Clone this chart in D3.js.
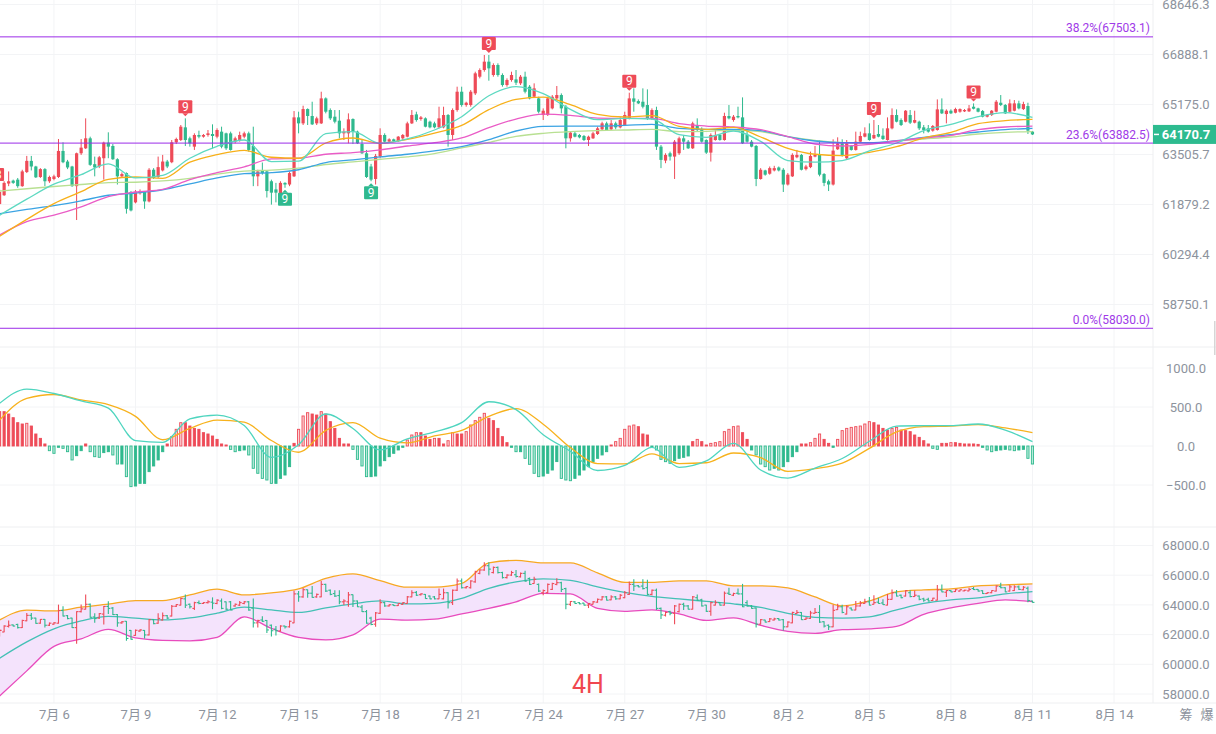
<!DOCTYPE html>
<html>
<head>
<meta charset="utf-8">
<script src="https://cdn.jsdelivr.net/npm/d3@7"></script>
<style>
  body { margin: 0; background: #fff; }
  svg { display: block; }
</style>
</head>
<body>
<div id="chart"></div>
<script>
// Datos: velas de 4H (apertura, máximo, mínimo, cierre), desde 7月4 00:00
const opens = [
  61896,62177,62556,62651,62683,62471,62930,63296,63112,62769,
  63026,62630,62704,62769,63623,63274,63112,62471,63546,63710,
  64041,63188,63112,63383,63897,63787,63350,62790,62897,62282,
  61947,62240,62282,61978,63005,62769,62983,63274,63252,63908,
  63985,64407,64041,63765,64152,64096,64152,64185,64096,64263,
  64207,64207,63930,63985,64096,64207,63787,62790,62983,62951,
  62630,62366,62240,62577,62524,62790,64741,64540,65021,64787,
  64540,64540,65382,64988,64764,64630,64207,64207,64686,64263,
  63852,63546,63112,62704,63437,64152,63930,64008,63952,64041,
  64096,64540,64842,64686,64708,64596,64540,64407,64407,64820,
  64152,64988,65609,65157,65157,65552,66122,66352,66640,66180,
  66524,66180,65837,66008,66030,65894,66122,65780,65439,65382,
  64820,64820,65044,65382,65496,65100,64041,64207,64152,64118,
  63985,64041,64185,64340,64540,64340,64540,64407,64485,64708,
  65382,65291,65269,65157,64708,64988,63765,63306,63546,63437,
  63546,64041,63930,63710,64485,64340,63985,63568,63985,64152,
  63985,64787,64652,64787,64741,64152,63930,63787,62704,62983,
  62876,62983,63080,63005,62524,62790,63415,63492,63026,63091,
  63437,63492,62865,62630,62524,63678,63874,63383,63787,63656,
  63930,64096,64207,64041,64185,64130,63985,64374,64820,64652,
  64596,64820,64563,64596,64407,64374,64296,64318,65010,64853,
  64965,64898,64932,64943,64943,65100,65044,64954,64764,64820,
  64932,65235,65157,64932,64965,65213,65021,65122,64263
];
const highs = [
  62366,62630,62951,62683,62737,63005,63459,63459,63134,63058,
  63058,62812,62844,64019,63908,63328,63134,63568,64019,64708,
  64096,63437,63459,63930,64241,63852,63383,62919,62919,62313,
  62345,62366,62313,63058,63058,63437,63492,63328,63985,64063,
  64485,64708,64096,64207,64296,64185,64318,64507,64374,64429,
  64230,64263,64096,64263,64263,64263,64429,63005,63242,62983,
  62683,62577,62630,62598,62951,64954,64932,65134,65044,65269,
  64764,65609,65416,65044,64988,64988,64374,64876,64708,64296,
  63985,63656,63198,63524,64374,64207,64041,64030,64118,64185,
  64596,64988,64932,64787,64741,64630,64596,65100,65100,64853,
  65044,65780,65780,65269,65666,66294,66409,66871,66871,66582,
  66582,66237,66065,66294,66352,66180,66294,65837,65894,65439,
  65044,65439,65496,65803,65552,65157,64263,64263,64185,64152,
  64130,64263,64429,64596,64596,64652,64596,64741,64932,65575,
  65723,65348,65723,65689,65044,65100,63820,63546,63601,63985,
  64096,64152,63985,64596,64708,64407,64008,64207,64318,64185,
  64898,65157,64820,65100,65416,64318,63985,63820,63058,63005,
  63112,63134,63112,63058,62897,63546,63656,63524,63166,63601,
  63787,63985,62897,62683,64008,64074,64008,63985,63820,64263,
  64263,64407,64540,64652,64485,64374,64741,65044,65010,64708,
  64988,64988,64965,64630,64485,64485,64485,65348,65382,65010,
  65010,65066,65044,65021,65157,65213,65066,64988,64853,64988,
  65326,65496,65190,65348,65326,65304,65269,65235,64285
];
const lows = [
  61875,62156,62471,62545,62418,62450,62897,62983,62737,62737,
  62471,62577,62662,62737,63220,63026,62450,61383,63492,63688,
  63134,62790,63058,62683,63383,63328,62524,62737,61587,61658,
  61916,62198,61741,61947,62704,62737,62951,63058,63220,63852,
  63952,63787,63765,63656,64041,64063,64096,63710,64041,63710,
  63656,63634,63874,63930,64041,63601,62471,62471,62844,62104,
  61875,61947,62208,62418,62471,62769,64207,64485,64485,64485,
  64485,64518,64876,64652,64540,64041,63985,63874,63852,63852,
  63524,62737,62630,62524,63383,63874,63897,63919,63919,63985,
  64074,64518,64596,64630,64407,64374,64374,64374,64374,63765,
  63985,64932,65100,65100,65100,65496,66065,66294,65985,66122,
  66122,65780,65780,65951,65837,65837,65552,65348,65416,64876,
  64652,64787,65010,65326,64876,63710,63930,64074,64041,63952,
  63787,64019,64152,64318,64296,64318,64340,64374,64451,64674,
  64932,65190,65044,64652,64652,63656,63058,63220,63306,62704,
  63492,63656,63688,63688,64263,63897,63524,63274,63963,63963,
  63963,64674,64596,64708,63852,63897,63743,62471,62683,62812,
  62844,62951,62951,62282,62492,62769,63383,62983,62983,63058,
  63415,62790,62471,62313,62492,63656,63437,63350,63634,63634,
  63897,64074,63963,64019,64074,63985,63963,64340,64574,64451,
  64574,64518,64540,64318,64207,64230,64263,64296,64853,64540,
  64853,64876,64898,64921,64921,65010,64910,64741,64741,64787,
  64910,65122,64853,64910,64943,65010,64988,64185,64152
];
const closes = [
  62282,62577,62630,62577,62471,62951,63296,63112,62758,63026,
  62630,62769,62790,63623,63252,63080,62471,63546,63732,64041,
  63166,63080,63415,63897,63765,63350,62790,62865,61741,61689,
  62292,62313,61978,63005,62737,63091,63274,63112,63908,64019,
  64429,63985,63874,64152,64096,64152,64207,64118,64318,63765,
  63710,63656,64041,64152,64207,63656,62790,62951,62897,62313,
  62261,62261,62577,62524,62897,64741,64540,65021,64787,64507,
  64708,65382,64932,64708,64596,64207,64263,64674,64263,63874,
  63546,62769,62683,63459,64152,63930,64008,63952,64096,64152,
  64540,64820,64652,64741,64429,64407,64407,64708,64820,64152,
  64988,65609,65157,65235,65609,66237,66352,66640,66409,66524,
  66180,65837,66008,66180,65917,66122,65609,65382,65723,64932,
  64965,65382,65439,65496,65044,64041,64230,64096,64074,63985,
  64096,64207,64374,64540,64318,64540,64407,64652,64820,65382,
  65269,65213,65100,64708,64988,63765,63328,63492,63437,63930,
  64041,63930,63710,64540,64318,63930,63568,64152,64152,63985,
  64787,64708,64764,64741,63874,63930,63765,62704,63005,62844,
  63058,63058,62983,62524,62844,63492,63492,63005,63112,63459,
  63492,62844,62577,62524,63634,63874,63492,63874,63656,63930,
  64118,64207,63985,64152,64096,64019,64374,64820,64596,64485,
  64965,64563,64652,64374,64318,64263,64451,65010,64876,64965,
  64876,65021,65021,64988,65044,65032,64932,64764,64820,64965,
  65269,65157,64876,65213,65213,65044,65190,64296,64170.7
];

// Medias móviles, una muestra por día (00:00), 7月4 → 8月11
const maTeal = [61536,62051,62535,62844,63198,62737,62823,63383,63776,63985,63274,63285,64196,64263,63874,64019,64318,64764,65473,65780,65541,65010,64663,64708,64686,64163,64074,64285,63941,63306,63252,63306,63623,63886,64296,64507,64764,64898,64741];
const maOrange = [60870,61404,61906,62292,62694,62769,62726,63252,63503,63645,63415,63383,63886,64052,63874,64008,64218,64474,64999,65348,65428,65168,64842,64753,64798,64440,64340,64407,64085,63710,63514,63470,63579,63765,64052,64241,64529,64630,64674];
const maPink = [60908,61332,61536,61802,62135,62282,62366,62683,62908,63101,63361,63383,63514,63568,63656,63787,63897,64052,64396,64686,64853,64809,64719,64708,64708,64529,64451,64418,64329,64096,63852,63787,63841,63952,64052,64141,64329,64418,64451];
const maBlue = [61587,61720,61844,61999,62177,62250,62355,62545,62737,62876,62908,63005,63242,63328,63426,63514,63623,63765,63996,64285,64440,64451,64451,64474,64507,64374,64340,64340,64296,64096,63952,63897,63897,63963,64074,64163,64252,64329,64374];
const maLime = [62313,62387,62460,62524,62588,62598,62640,62726,62865,62962,62994,63058,63177,63263,63350,63426,63535,63721,63908,64107,64207,64263,64296,64318,64340,64263,64274,64318,64263,64096,63974,63897,63886,63952,64019,64085,64185,64241,64263];

// MACD (DIF / DEA por día, histograma por vela)
const macdDif = [547,730,673,577,486,70,47,349,397,262,-147,15,410,225,-50,90,180,300,567,466,145,-69,-314,-249,-18,-273,-191,34,-308,-411,-283,-160,61,256,260,262,282,203,56];
const macdDea = [333,611,660,590,530,380,80,226,333,305,70,-80,200,300,100,40,130,200,380,480,280,-20,-225,-230,-100,-225,-215,-90,-150,-325,-290,-220,-30,180,248,256,275,232,171];
const macdHist = [
  440,440,410,363,299,282,291,256,154,98,
  26,-60,-94,-17,-30,-73,-179,-124,-60,26,
  -73,-137,-145,-85,-73,-115,-231,-231,-393,-521,
  -513,-479,-479,-329,-256,-179,-73,26,120,214,
  299,299,256,226,214,171,154,128,85,26,
  13,-43,-73,-60,-51,-115,-286,-350,-415,-436,
  -479,-479,-415,-372,-265,34,214,385,427,410,
  397,440,410,312,226,98,26,26,-43,-171,
  -256,-393,-393,-385,-256,-188,-137,-94,-51,-17,
  77,141,171,171,128,85,98,98,26,68,
  171,154,154,184,269,325,368,419,355,325,
  226,120,43,-17,-73,-73,-158,-235,-350,-393,
  -385,-350,-308,-200,-415,-436,-445,-415,-372,-308,
  -265,-201,-158,-115,-73,13,56,98,214,256,
  269,248,154,141,-17,-51,-171,-201,-222,-188,
  -158,-145,-128,56,85,56,13,34,43,56,
  184,214,248,256,171,85,-51,-115,-231,-265,
  -308,-286,-308,-265,-201,-137,-73,26,26,43,
  98,154,85,34,-17,85,197,226,239,248,
  256,282,312,299,269,226,205,226,239,205,
  197,184,141,111,68,26,-30,-43,34,34,
  43,43,34,26,26,26,21,-17,-51,-73,
  -60,-51,-43,-51,-60,-51,-43,-158,-231
];

// Bandas de Bollinger, una muestra por día
const bollUpper = [62990,63643,63596,63845,64054,64290,64290,64673,65057,64673,64808,65077,65785,66088,65636,65192,65192,65448,66828,66997,66828,66828,66155,65515,65515,65616,65616,65279,65279,65145,64539,63933,64269,64875,65010,65077,65279,65347,65414];
const bollMid = [60411,61508,62391,62923,63226,63104,62990,63125,63441,63845,63663,63495,63798,64067,64269,64067,64101,64438,65111,65549,65751,65650,65212,64842,64572,64404,64236,64067,63832,63428,63158,63104,63192,63663,64101,64337,64471,64741,64896];
const bollLower = [57872,59556,61205,61710,62350,61778,61609,61576,61811,63192,62418,61811,61643,61980,63037,62970,63037,63394,63764,64202,64774,64741,63764,63562,63663,63394,62956,63125,62620,62215,62081,62330,62384,62552,63361,63798,64101,64337,64222];

// Ejes y niveles
const priceTicks = [68646.3, 66888.1, 65175.0, 63505.7, 61879.2, 60294.4, 58750.1];
const macdTicks = [1000, 500, 0, -500];
const bollTicks = [68000, 66000, 64000, 62000, 60000, 58000];
const fibLevels = [
  { label: "38.2%", value: 67503.1 },
  { label: "23.6%", value: 63882.5 },
  { label: "0.0%", value: 58030.0 },
];
const lastPrice = 64170.7;
const dayTicks = [[7,6],[7,9],[7,12],[7,15],[7,18],[7,21],[7,24],[7,27],[7,30],[8,2],[8,5],[8,8],[8,11],[8,14]];
const tdMarks = [
  { idx: -1, text: "13", side: "up", anchor: 62480 },
  { idx: 41, text: "9", side: "up" },
  { idx: 108, text: "9", side: "up" },
  { idx: 139, text: "9", side: "up" },
  { idx: 193, text: "9", side: "up" },
  { idx: 215, text: "9", side: "up" },
  { idx: 63, text: "9", side: "down" },
  { idx: 82, text: "9", side: "down" },
];

// Constantes de dibujo
const width = 1216;
const height = 734;
const plotRight = 1153;
const font = "Roboto, 'Noto Sans CJK SC', sans-serif";
const up = "#ee4b58";
const down = "#2fb98e";
const gridColor = "#f3f4f6";
const axisColor = "#8d939d";
const fibColor = "#9b2ce8";
const panes = {
  price: { top: 0, bottom: 347 },
  macd: { top: 347, bottom: 527 },
  boll: { top: 527, bottom: 703 },
};

// Tiempos
const startTime = new Date(2024, 6, 4, 0);
const candleTimes = d3.range(opens.length).map((i) => d3.timeHour.offset(startTime, 4 * i));
const dayTimes = d3.range(maTeal.length).map((i) => d3.timeDay.offset(startTime, i));
const candles = candleTimes.map((t, i) => ({ t, o: opens[i], h: highs[i], l: lows[i], c: closes[i] }));

// Escalas
const x = d3.scaleTime().domain([startTime, new Date(2024, 7, 14)]).range([-0.4, 1114]);
const yPrice = d3.scaleLog().domain([58750.1, 68646.3]).range([304.5, 4.5]);
const yMacd = d3.scaleLinear().domain([-500, 1000]).range([485, 368]);
const yBoll = d3.scaleLinear().domain([58000, 68000]).range([694, 545.5]);

const svg = d3.select("#chart").append("svg")
  .attr("width", width).attr("height", height)
  .attr("font-family", font);

// Clips por panel
const defs = svg.append("defs");
Object.entries(panes).forEach(([name, p]) => {
  defs.append("clipPath").attr("id", `clip-${name}`)
    .append("rect").attr("x", 0).attr("y", p.top).attr("width", plotRight).attr("height", p.bottom - p.top);
});

// Rejilla
const gridGroup = svg.append("g");
const tickDates = dayTicks.map(([m, d]) => new Date(2024, m - 1, d));
gridGroup.selectAll("line.v").data(tickDates).join("line")
  .attr("x1", (d) => x(d)).attr("x2", (d) => x(d))
  .attr("y1", 0).attr("y2", panes.boll.bottom)
  .attr("stroke", gridColor);
const hGrid = (scale, ticks) => gridGroup.append("g").selectAll("line").data(ticks).join("line")
  .attr("x1", 0).attr("x2", plotRight)
  .attr("y1", (d) => scale(d)).attr("y2", (d) => scale(d))
  .attr("stroke", gridColor);
hGrid(yPrice, priceTicks);
hGrid(yMacd, macdTicks);
hGrid(yBoll, bollTicks);
[panes.price.bottom, panes.macd.bottom, panes.boll.bottom].forEach((yy) => {
  gridGroup.append("line").attr("x1", 0).attr("x2", width).attr("y1", yy).attr("y2", yy).attr("stroke", "#eeeff1");
});
gridGroup.append("line").attr("x1", plotRight).attr("x2", plotRight).attr("y1", 0).attr("y2", panes.boll.bottom).attr("stroke", "#eeeff1");

// ---------- Panel de precio ----------
const pricePane = svg.append("g").attr("clip-path", "url(#clip-price)");

pricePane.selectAll("line.wick").data(candles).join("line")
  .attr("x1", (d) => x(d.t)).attr("x2", (d) => x(d.t))
  .attr("y1", (d) => yPrice(d.h)).attr("y2", (d) => yPrice(d.l))
  .attr("stroke", (d) => (d.c >= d.o ? up : down)).attr("stroke-width", 1);
pricePane.selectAll("rect.body").data(candles).join("rect")
  .attr("x", (d) => x(d.t) - 1.6).attr("width", 3.2)
  .attr("y", (d) => yPrice(Math.max(d.o, d.c)))
  .attr("height", (d) => Math.max(1, Math.abs(yPrice(d.o) - yPrice(d.c))))
  .attr("fill", (d) => (d.c >= d.o ? up : down));

const maSeries = [
  { values: maLime, color: "#b8e092" },
  { values: maBlue, color: "#3aa3e3" },
  { values: maPink, color: "#ea5cc6" },
  { values: maOrange, color: "#f7b019" },
  { values: maTeal, color: "#5dd9c1" },
];
const priceLine = d3.line().x((d, i) => x(dayTimes[i])).y((d) => yPrice(d)).curve(d3.curveMonotoneX);
pricePane.selectAll("path.ma").data(maSeries).join("path")
  .attr("d", (d) => priceLine(d.values))
  .attr("fill", "none").attr("stroke", (d) => d.color).attr("stroke-width", 1.3);

// Niveles Fibonacci
pricePane.selectAll("line.fib").data(fibLevels).join("line")
  .attr("x1", 0).attr("x2", plotRight)
  .attr("y1", (d) => yPrice(d.value)).attr("y2", (d) => yPrice(d.value))
  .attr("stroke", fibColor).attr("stroke-width", 1);
pricePane.selectAll("text.fib").data(fibLevels).join("text")
  .attr("x", plotRight - 3).attr("y", (d) => yPrice(d.value) - 4.5)
  .attr("text-anchor", "end").attr("font-size", 12).attr("fill", "#a03ae8")
  .text((d) => `${d.label}(${d.value.toFixed(1)})`);

// Marcas TD
const td = pricePane.selectAll("g.td").data(tdMarks).join("g")
  .attr("transform", (d) => {
    const t = d3.timeHour.offset(startTime, 4 * d.idx);
    const price = d.anchor !== undefined ? d.anchor : d.side === "up" ? highs[d.idx] : lows[d.idx];
    const tip = d.side === "up" ? yPrice(price) - 2 : yPrice(price) + 2;
    return `translate(${x(t)},${tip})`;
  });
td.append("path")
  .attr("d", (d) => (d.side === "up" ? "M-3,-3L3,-3L0,0Z" : "M-3,3L3,3L0,0Z"))
  .attr("fill", (d) => (d.side === "up" ? up : down));
td.append("rect")
  .attr("x", (d) => -(d.text.length > 1 ? 9 : 7)).attr("width", (d) => (d.text.length > 1 ? 18 : 14))
  .attr("y", (d) => (d.side === "up" ? -16 : 3)).attr("height", 13).attr("rx", 1)
  .attr("fill", (d) => (d.side === "up" ? up : down));
td.append("text")
  .attr("y", (d) => (d.side === "up" ? -5.3 : 13.7))
  .attr("text-anchor", "middle").attr("font-size", 12).attr("fill", "#fff")
  .text((d) => d.text);

// ---------- Panel MACD ----------
const macdPane = svg.append("g").attr("clip-path", "url(#clip-macd)");
const histData = candleTimes.map((t, i) => ({
  t, v: macdHist[i],
  grow: i > 0 && Math.abs(macdHist[i]) > Math.abs(macdHist[i - 1]),
}));
macdPane.selectAll("rect.hist").data(histData).join("rect")
  .attr("x", (d) => x(d.t) - 1.1).attr("width", 2.2)
  .attr("y", (d) => Math.min(yMacd(0), yMacd(d.v)))
  .attr("height", (d) => Math.max(0.8, Math.abs(yMacd(d.v) - yMacd(0))))
  .attr("fill", (d) => (d.grow ? (d.v >= 0 ? "#fbd3d6" : "#b5ead9") : d.v >= 0 ? up : down))
  .attr("stroke", (d) => (d.v >= 0 ? up : down))
  .attr("stroke-width", 0.9);
const macdLine = d3.line().x((d, i) => x(dayTimes[i])).y((d) => yMacd(d)).curve(d3.curveMonotoneX);
macdPane.append("path").attr("d", macdLine(macdDea)).attr("fill", "none").attr("stroke", "#f7b21d").attr("stroke-width", 1.3);
macdPane.append("path").attr("d", macdLine(macdDif)).attr("fill", "none").attr("stroke", "#4fd5bf").attr("stroke-width", 1.3);

// ---------- Panel Bollinger ----------
const bollPane = svg.append("g").attr("clip-path", "url(#clip-boll)");
const bollArea = d3.area()
  .x((d, i) => x(dayTimes[i]))
  .y0((d, i) => yBoll(bollLower[i]))
  .y1((d) => yBoll(d))
  .curve(d3.curveMonotoneX);
bollPane.append("path").attr("d", bollArea(bollUpper)).attr("fill", "#f4e3fc");
const bollLine = d3.line().x((d, i) => x(dayTimes[i])).y((d) => yBoll(d)).curve(d3.curveMonotoneX);
bollPane.selectAll("path.bb").data([
  { values: bollUpper, color: "#f7a823" },
  { values: bollMid, color: "#43c0b5" },
  { values: bollLower, color: "#e84cbd" },
]).join("path")
  .attr("d", (d) => bollLine(d.values))
  .attr("fill", "none").attr("stroke", (d) => d.color).attr("stroke-width", 1.3);

const bar = bollPane.selectAll("g.bar").data(candles).join("g")
  .attr("stroke", (d) => (d.c >= d.o ? up : down)).attr("stroke-width", 1.1);
bar.append("line")
  .attr("x1", (d) => x(d.t)).attr("x2", (d) => x(d.t))
  .attr("y1", (d) => yBoll(d.h)).attr("y2", (d) => yBoll(d.l));
bar.append("line")
  .attr("x1", (d) => x(d.t) - 2).attr("x2", (d) => x(d.t))
  .attr("y1", (d) => yBoll(d.o)).attr("y2", (d) => yBoll(d.o));
bar.append("line")
  .attr("x1", (d) => x(d.t)).attr("x2", (d) => x(d.t) + 2)
  .attr("y1", (d) => yBoll(d.c)).attr("y2", (d) => yBoll(d.c));

// ---------- Ejes ----------
const rightAxis = (scale, ticks, fmt) => {
  const g = svg.append("g").attr("transform", `translate(${plotRight},0)`)
    .call(d3.axisRight(scale).tickValues(ticks).tickFormat(fmt).tickSize(0).tickPadding(33));
  g.select(".domain").remove();
  g.attr("font-family", font).attr("font-size", 13);
  g.selectAll("text").attr("text-anchor", "middle").attr("fill", axisColor);
  return g;
};
rightAxis(yPrice, priceTicks, d3.format(".1f"));
rightAxis(yMacd, macdTicks, d3.format(".1f"));
rightAxis(yBoll, bollTicks, d3.format(".1f"));

const xAxisG = svg.append("g").attr("transform", `translate(0,${panes.boll.bottom})`)
  .call(d3.axisBottom(x).tickValues(tickDates)
    .tickFormat((d) => `${d.getMonth() + 1}月 ${d.getDate()}`)
    .tickSize(0).tickPadding(7));
xAxisG.select(".domain").remove();
xAxisG.attr("font-family", font).attr("font-size", 13);
xAxisG.selectAll("text").attr("fill", axisColor);

// Etiqueta del último precio
const lastY = yPrice(lastPrice);
svg.append("rect").attr("x", plotRight).attr("y", lastY - 9.5).attr("width", width - plotRight).attr("height", 19).attr("fill", "#2dbb8f");
svg.append("line").attr("x1", plotRight + 1).attr("x2", plotRight + 6).attr("y1", lastY).attr("y2", lastY).attr("stroke", "#fff").attr("stroke-width", 1.5);
svg.append("text").attr("x", 1186).attr("y", lastY + 4.6)
  .attr("text-anchor", "middle").attr("font-size", 13).attr("font-weight", "bold").attr("fill", "#fff")
  .text(lastPrice.toFixed(1));

// Otros textos
svg.append("text").attr("x", 588).attr("y", 693).attr("text-anchor", "middle")
  .attr("font-size", 25).attr("fill", "#f0474f").text("4H");
svg.selectAll("text.tool").data([["筹", 1186], ["爆", 1207]]).join("text")
  .attr("x", (d) => d[1]).attr("y", 719).attr("text-anchor", "middle")
  .attr("font-size", 13).attr("fill", axisColor).text((d) => d[0]);
svg.append("rect").attr("x", 1214).attr("y", 321).attr("width", 1.5).attr("height", 34).attr("fill", "#d6d6d6");
</script>
</body>
</html>
